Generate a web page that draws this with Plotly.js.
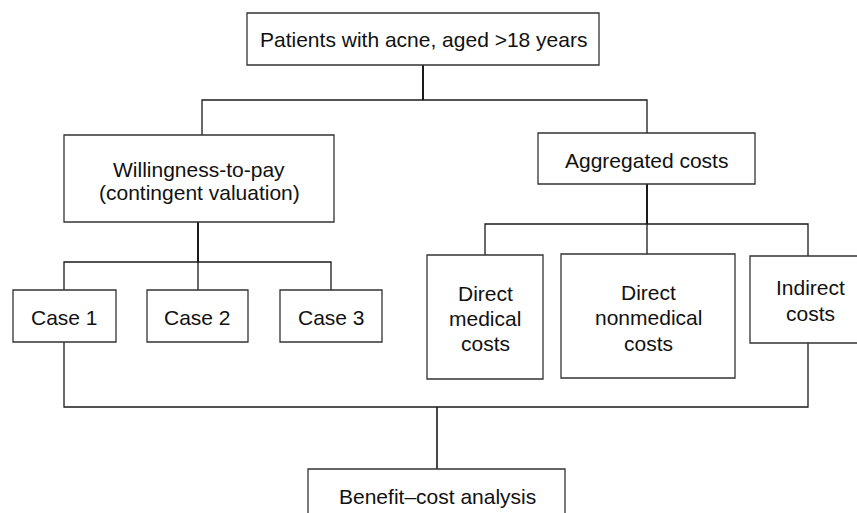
<!DOCTYPE html>
<html>
<head>
<meta charset="utf-8">
<script src="https://cdn.plot.ly/plotly-3.0.1.min.js"></script>
<style>html,body{margin:0;padding:0;background:#fff;}#chart{width:857px;height:513px;}</style>
</head>
<body>
<div id="chart"></div>
<script>
// Node labels (text content of the flowchart)
const nodeIds = ["root", "wtp", "agg", "case1", "case2", "case3", "dmed", "dnon", "indir", "bca"];
const nodeLabels = [
  "Patients with acne, aged >18 years",
  "Willingness-to-pay<br>(contingent valuation)",
  "Aggregated costs",
  "Case 1",
  "Case 2",
  "Case 3",
  "Direct<br>medical<br>costs",
  "Direct<br>nonmedical<br>costs",
  "Indirect<br>costs",
  "Benefit\u2013cost analysis"
];

// Layout geometry (pixel space): [x0, y0, x1, y1], text centre x, first-line y, line step
const geom = {
  root:  {box: [247, 13, 599, 65],  tx: 423, ty: 39,  step: 24},
  wtp:   {box: [64, 135, 334, 222], tx: 199, ty: 169, step: 23},
  agg:   {box: [538, 133, 755, 184], tx: 646, ty: 160, step: 24},
  case1: {box: [13, 290, 116, 342], tx: 64.5, ty: 317, step: 24},
  case2: {box: [147, 290, 248, 342], tx: 197.5, ty: 317, step: 24},
  case3: {box: [280, 290, 382, 342], tx: 331, ty: 317, step: 24},
  dmed:  {box: [427, 255, 543, 379], tx: 485, ty: 293, step: 25},
  dnon:  {box: [561, 254, 735, 378], tx: 648, ty: 292, step: 25.5},
  indir: {box: [750, 256, 870, 343], tx: 810, ty: 287, step: 26},
  bca:   {box: [308, 469, 565, 530], tx: 437, ty: 496, step: 24}
};

// Connector polylines (pixel space)
const connectors = [
  {pts: [[423, 65], [423, 100]], w: 2},
  {pts: [[202, 135], [202, 100], [647, 100], [647, 133]], w: 1.3},
  {pts: [[198, 222], [198, 262]], w: 2},
  {pts: [[64, 290], [64, 262], [331, 262], [331, 290]], w: 1.3},
  {pts: [[198, 262], [198, 290]], w: 1.3},
  {pts: [[647, 184], [647, 224]], w: 2},
  {pts: [[485, 255], [485, 224], [808, 224], [808, 256]], w: 1.3},
  {pts: [[647, 224], [647, 254]], w: 1.3},
  {pts: [[64, 342], [64, 407], [808, 407], [808, 343]], w: 1.3},
  {pts: [[437, 407], [437, 469]], w: 1.6}
];

const lineColor = "#1a1a1a";
const shapes = [];
const annotations = [];

connectors.forEach(c => {
  let path = "M" + c.pts.map(p => p[0] + "," + p[1]).join(" L");
  shapes.push({type: "path", xref: "x", yref: "y", path: path,
    line: {color: lineColor, width: c.w}});
});

nodeIds.forEach((id, i) => {
  const g = geom[id];
  shapes.push({type: "rect", xref: "x", yref: "y",
    x0: g.box[0], y0: g.box[1], x1: g.box[2], y1: g.box[3],
    line: {color: "#333333", width: 1.3}, fillcolor: "#ffffff", layer: "above"});
  const lines = nodeLabels[i].split("<br>");
  lines.forEach((t, j) => {
    annotations.push({x: g.tx, y: g.ty + j * g.step, xref: "x", yref: "y",
      text: t, showarrow: false, xanchor: "center", yanchor: "middle",
      font: {family: "Liberation Sans, Arial, sans-serif", size: 21, color: "#111111"}});
  });
});

const layout = {
  width: 857, height: 513,
  margin: {l: 0, r: 0, t: 0, b: 0},
  paper_bgcolor: "#ffffff", plot_bgcolor: "#ffffff",
  xaxis: {range: [0, 857], visible: false, fixedrange: true},
  yaxis: {range: [513, 0], visible: false, fixedrange: true},
  showlegend: false,
  shapes: shapes,
  annotations: annotations
};

Plotly.newPlot("chart", [{x: [], y: [], type: "scatter", mode: "markers", hoverinfo: "skip"}], layout, {staticPlot: true, displayModeBar: false});
</script>
</body>
</html>
